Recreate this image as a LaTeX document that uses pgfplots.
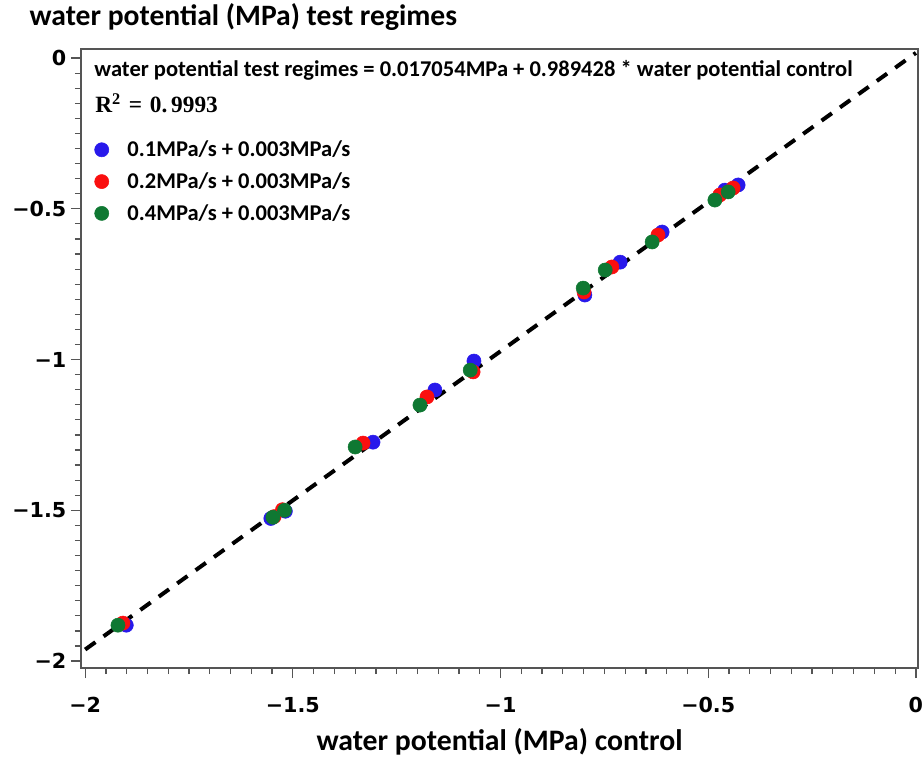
\documentclass[border=0pt]{standalone}
\usepackage{fontspec}
\usepackage{pgfplots}
\pgfplotsset{compat=1.18}
\setmainfont{Carlito}
\newfontfamily\tickfont{DejaVu Sans}
\newfontfamily\eqfont{Liberation Serif}
\definecolor{ptblue}{RGB}{40,25,235}
\definecolor{ptred}{RGB}{250,15,15}
\definecolor{ptgreen}{RGB}{15,120,50}
\definecolor{framegray}{RGB}{85,85,85}

% measured water potentials (MPa): control vs. test regimes
\pgfplotstableread{
x y
-1.901 -1.881
-1.553 -1.527
-1.518 -1.503
-1.307 -1.274
-1.158 -1.101
-1.064 -1.005
-0.797 -0.786
-0.712 -0.677
-0.611 -0.577
-0.460 -0.438
-0.428 -0.421
}\blueset
\pgfplotstableread{
x y
-1.909 -1.874
-1.545 -1.521
-1.525 -1.498
-1.331 -1.277
-1.177 -1.124
-1.066 -1.041
-0.799 -0.776
-0.732 -0.693
-0.621 -0.587
-0.472 -0.454
-0.440 -0.431
}\redset
\pgfplotstableread{
x y
-1.921 -1.881
-1.548 -1.523
-1.520 -1.500
-1.350 -1.290
-1.194 -1.151
-1.073 -1.035
-0.801 -0.763
-0.748 -0.703
-0.635 -0.610
-0.484 -0.471
-0.452 -0.444
}\greenset

\begin{document}
\begin{tikzpicture}[x=1pt,y=1pt]
\useasboundingbox (-60.75,-66.75) rectangle (632.25,501);
\begin{axis}[
  at={(0,0)}, anchor=south west,
  scale only axis, width=627.75pt, height=464.25pt,
  xmin=-2.01, xmax=0.005, ymin=-2.023, ymax=0.03,
  xtick={-2,-1.5,-1,-0.5,0},
  xticklabels={−2,−1.5,−1,−0.5,0},
  ytick={-2,-1.5,-1,-0.5,0},
  yticklabels={−2,−1.5,−1,−0.5,0},
  minor x tick num=9, minor y tick num=9,
  tick align=outside, xtick pos=bottom, ytick pos=left,
  major tick length=7.5pt, minor tick length=4.5pt,
  axis line style={framegray, line width=0.9pt},
  every tick/.style={framegray, line width=0.9pt},
  ticklabel style={font=\tickfont\bfseries\fontsize{15.5}{17}\selectfont},
  xticklabel style={yshift=-11pt},
  clip=false,
  legend image code/.code={\draw[#1] plot coordinates {(0pt,0pt)};},
  legend style={at={(rel axis cs:0.016,0.852)}, anchor=north west,
    draw=none, fill=none, inner sep=0pt, row sep=10.5pt,
    font=\bfseries\fontsize{16.9}{18}\selectfont,
    nodes={inner sep=0pt},
    /tikz/every odd column/.append style={column sep=14pt}},
  legend cell align=left,
]
\addplot[only marks, mark=*, mark size=5.3pt, ptblue] table {\blueset};
\addlegendentry{0.1MPa/s + 0.003MPa/s}
\addplot[only marks, mark=*, mark size=5.3pt, ptred] table {\redset};
\addlegendentry{0.2MPa/s + 0.003MPa/s}
\addplot[only marks, mark=*, mark size=5.3pt, ptgreen] table {\greenset};
\addlegendentry{0.4MPa/s + 0.003MPa/s}
% fitted regression line
\addplot[forget plot, black, line width=3pt, dash pattern=on 9.5pt off 7.5pt]
  coordinates {(-2,-1.961802) (0,0.017054)};
\node[anchor=base west, font=\bfseries\fontsize{16.9}{18}\selectfont]
  at (rel axis cs:0.0105,0.9548)
  {water potential test regimes = 0.017054MPa + 0.989428 * water potential control};
\node[anchor=base west, font=\eqfont\bfseries\fontsize{17.5}{19}\selectfont]
  at (rel axis cs:0.0115,0.8966) {R\textsuperscript{2}\,\,=\,\,0.\,9993};
\end{axis}
\node[anchor=base west, font=\bfseries\fontsize{22.2}{24}\selectfont]
  at (-42,481.5) {water potential (MPa) test regimes};
\node[anchor=base, font=\bfseries\fontsize{22.3}{24}\selectfont]
  at (313.9,-61.5) {water potential (MPa) control};
\end{tikzpicture}
\end{document}
